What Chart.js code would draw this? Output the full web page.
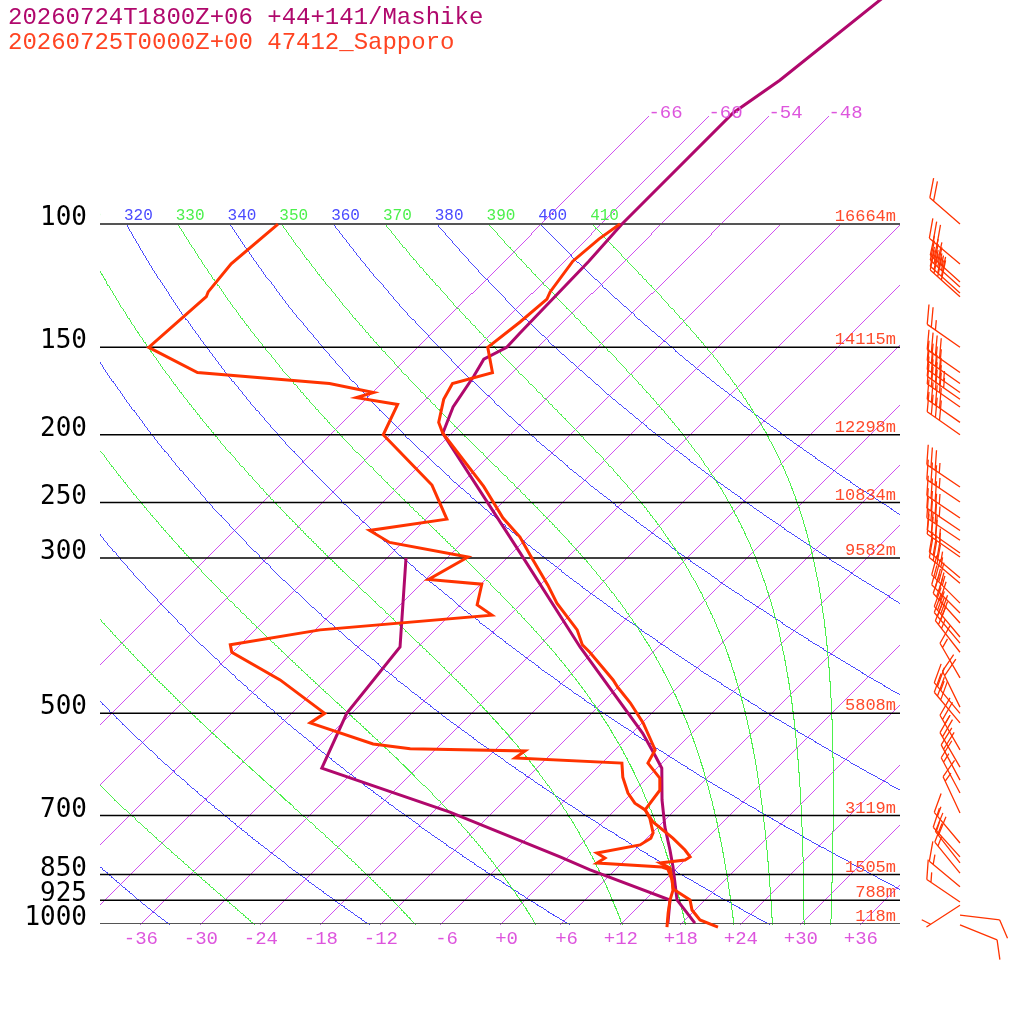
<!DOCTYPE html>
<html lang="en">
<head>
<meta charset="UTF-8">
<title>Skew-T Mashike / Sapporo</title>
<script src="https://cdn.jsdelivr.net/npm/chart.js"></script>
<style>
    html, body { margin: 0; padding: 0; background: #fff; overflow: hidden; }
    #wrap { width: 1024px; height: 1024px; }
</style>
</head>
<body>
<div id="wrap"><canvas id="skewt" width="1024" height="1024"></canvas></div>

<script>
    // sounding 1: model point Mashike (pressure hPa / degC)
    const mashikeTP = [997, 924, 829, 784, 727, 665, 599, 575, 534, 402, 295, 199, 182.5, 165, 156, 150, 143, 113, 100, 69.4, 62.3, 46];
    const mashikeT  = [19.4, 15.3, 11.6, 9.6, 6.8, 3.8, 0.6, -1.3, -4.8, -19.7, -35.1, -54.8, -56.4, -57.4, -58.1, -57.0, -57.1, -57.4, -57.8, -57.8, -56.4, -54.1];
    const mashikeDP = [997, 924, 837, 802, 692, 599, 500, 402, 300];
    const mashikeTd = [16.7, 14.6, 3.6, -0.7, -16.2, -33.4, -36.4, -37.7, -46.0];

    // sounding 2: 47412 Sapporo
    const sapporoTP = [1010, 987, 955, 924, 891, 865, 832, 818, 810, 802, 784, 754, 715, 687, 644, 619, 589, 564, 555, 516, 483, 459, 448, 409, 399, 380, 348, 328, 297, 280, 263, 237, 199, 192, 178, 169, 163, 150, 138, 128, 125, 113, 105, 100];
    const sapporoT  = [22.1, 19.6, 17.8, 16.6, 13.8, 12.8, 11.4, 9.9, 12.1, 12.3, 11.1, 8.7, 5.1, 3.1, 2.6, 1.4, -1.3, -1.9, -2.6, -5.8, -9.1, -11.9, -13.1, -18.2, -19.7, -21.7, -26.4, -29.1, -33.9, -36.7, -40.3, -45.4, -54.8, -56.3, -58.1, -58.8, -55.9, -58.9, -58.2, -57.8, -58.2, -59.0, -58.6, -58.0];
    const sapporoDP = [1010, 964, 924, 894, 865, 835, 829, 818, 805, 792, 771, 754, 741, 706, 687, 672, 650, 617, 589, 579, 566, 562, 553, 516, 500, 448, 409, 399, 380, 362, 350, 327, 322, 299, 285, 274, 264, 236, 200, 181, 177, 174, 169, 163, 150, 127, 125, 114, 100];
    const sapporoTd = [17.0, 15.7, 14.6, 13.9, 12.8, 11.3, 10.5, 3.6, 3.9, 2.6, 6.1, 6.5, 6.2, 4.4, 3.1, 1.4, -0.3, -2.4, -3.9, -15.1, -14.8, -26.5, -30.7, -39.1, -38.6, -46.4, -54.0, -54.9, -47.4, -31.7, -34.2, -35.8, -41.6, -39.9, -49.2, -52.4, -45.8, -50.7, -60.6, -62.2, -67.0, -65.8, -71.1, -85.4, -92.8, -92.1, -92.4, -92.9, -92.2];

    // Sapporo winds: pressure, direction (deg), speed (kt)
    const windP   = [100, 114, 121, 123, 125.5, 127, 150, 163, 169, 174, 178, 182.5, 192, 200, 237.5, 249.5, 263, 274, 283, 295, 299, 320, 326, 348, 359.5, 371.5, 389, 397, 409, 445, 490, 500, 516, 564, 597, 623, 650, 694, 766, 802, 818, 846, 885, 930, 940, 971, 1003];
    const windDir = [311, 310, 312, 312, 312, 312, 305, 305, 305, 305, 305, 305, 305, 305, 304, 304, 304, 304, 304, 305, 305, 310, 310, 315, 315, 318, 320, 320, 322, 330, 334, 320, 320, 330, 330, 332, 332, 335, 320, 318, 322, 321, 310, 304, 237, 97, 112];
    const windSpd = [20, 30, 35, 35, 40, 40, 25, 40, 40, 45, 45, 40, 40, 40, 35, 35, 35, 35, 30, 35, 35, 35, 35, 35, 30, 30, 30, 30, 25, 15, 20, 25, 30, 25, 20, 20, 15, 15, 15, 15, 20, 15, 15, 15, 5, 10, 10];

    // diagram furniture
    const pressureLevels = [100, 150, 200, 250, 300, 500, 700, 850, 925, 1000];
    const heightLabels = ['16664m', '14115m', '12298m', '10834m', '9582m', '5808m', '3119m', '1505m', '788m', '118m'];
    const isothermTemps = [-66, -60, -54, -48, -42, -36, -30, -24, -18, -12, -6, 0, 6, 12, 18, 24, 30, 36];
    const dryThetas = [200, 220, 240, 260, 280, 300, 320, 340, 360, 380, 400];
    const moistThetas = [230, 250, 270, 290, 310, 330, 350, 370, 390, 410];
    const titleLines = ['20260724T1800Z+06 +44+141/Mashike', '20260725T0000Z+00 47412_Sapporo'];

    const MASHIKE = '#b0086c';
    const SAPPORO = '#ff3300';
    const ISOCOL = '#d050f0';
    const DRY = '#4a4aff';
    const MOIST = '#4cf04c';

    const SKEW = 30.4;   // degrees per ln(p) -> 45 degree isotherms
    const P_TOP = 47.85;
    const skewX = (t, p) => t + SKEW * Math.log(1000 / p);
    const toPoints = (ps, ts) => ps.map((p, i) => ({ x: skewX(ts[i], p), y: p }));

    function dryPoints(theta) {
        const pts = [];
        for (let p = 1000; p >= 100; p -= 10) {
            pts.push({ x: skewX(theta * Math.pow(p / 1000, 0.2857) - 273.15, p), y: p });
        }
        return pts;
    }

    function isoPoints(t) {
        const pEnd = t <= -48 ? 70 : 100;
        return [{ x: skewX(t, 1000), y: 1000 }, { x: skewX(t, pEnd), y: pEnd }];
    }

    // pseudo-adiabatic lapse rate dT/dp (K/hPa)
    function dTdp(T, p) {
        const tc = T - 273.15;
        const es = 6.112 * Math.exp(17.67 * tc / (tc + 243.5));
        const rs = 0.622 * es / (p - es);
        const L = 2.501e6;
        return (287.04 * T + L * rs) / (p * (1005.7 + L * L * rs * 0.622 / (287.04 * T * T)));
    }

    function moistPoints(theta) {
        let p = 100;
        let T = theta * Math.pow(0.1, 0.2857);
        const pts = [{ x: skewX(T - 273.15, p), y: p }];
        const dp = 2;
        while (p < 1000) {
            const k1 = dTdp(T, p);
            const k2 = dTdp(T + k1 * dp / 2, p + dp / 2);
            T += k2 * dp;
            p += dp;
            pts.push({ x: skewX(T - 273.15, p), y: p });
        }
        return pts;
    }

    const backgroundLines = [];
    isothermTemps.forEach(t => backgroundLines.push({ pts: isoPoints(t), color: ISOCOL }));
    dryThetas.forEach(th => backgroundLines.push({ pts: dryPoints(th), color: DRY }));
    moistThetas.forEach(th => backgroundLines.push({ pts: moistPoints(th), color: MOIST }));

    function lineDs(data, color, width, order, clip) {
        return {
            data: data, borderColor: color, backgroundColor: color, borderWidth: width, order: order,
            pointRadius: 0, tension: 0, fill: false, clip: clip
        };
    }

    const datasets = [];
    datasets.push(lineDs(toPoints(sapporoTP, sapporoT), SAPPORO, 3, 0, 8));
    datasets.push(lineDs(toPoints(sapporoDP, sapporoTd), SAPPORO, 3, 0, 8));
    datasets.push(lineDs(toPoints(mashikeTP, mashikeT), MASHIKE, 3, 1, 8));
    datasets.push(lineDs(toPoints(mashikeDP, mashikeTd), MASHIKE, 3, 1, 8));
    pressureLevels.forEach(p => {
        const edge = (p === 100 || p === 1000);
        datasets.push(lineDs([{ x: -40, y: p }, { x: 40, y: p }], edge ? '#555' : '#000', edge ? 2 : 1.5, 2, 0));
    });

    // isotherms and adiabats: crisp one-pixel lines placed through the chart scales
    const background = {
        id: 'background',
        beforeDatasetsDraw(chart) {
            const ctx = chart.ctx;
            const xs = chart.scales.x, ys = chart.scales.y;
            const a = chart.chartArea;
            ctx.save();
            backgroundLines.forEach(line => {
                ctx.fillStyle = line.color;
                const px = line.pts.map(pt => [xs.getPixelForValue(pt.x), ys.getPixelForValue(pt.y)]);
                for (let k = 1; k < px.length; k++) {
                    const [x1, y1] = px[k - 1], [x2, y2] = px[k];
                    const n = Math.max(1, Math.ceil(Math.max(Math.abs(x2 - x1), Math.abs(y2 - y1))));
                    for (let i = 0; i <= n; i++) {
                        const x = Math.round(x1 + (x2 - x1) * i / n);
                        const y = Math.round(y1 + (y2 - y1) * i / n);
                        if (x >= a.left && x < a.right && y >= a.top && y <= a.bottom) ctx.fillRect(x, y, 1, 1);
                    }
                }
            });
            ctx.restore();
        }
    };

    function drawBarb(ctx, x0, y0, dir, spd) {
        const rad = dir * Math.PI / 180;
        const ux = Math.sin(rad), uy = -Math.cos(rad);
        const nx = -uy, ny = ux;
        const fx = 0.5 * ux + 0.866 * nx, fy = 0.5 * uy + 0.866 * ny;
        const L = 40, F = 20, gap = 5;
        const tx = x0 + L * ux, ty = y0 + L * uy;
        ctx.beginPath();
        ctx.moveTo(x0, y0);
        ctx.lineTo(tx, ty);
        let s = Math.round(spd / 5) * 5;
        let pos = 0;
        while (s >= 50) {
            const bx = tx - pos * ux, by = ty - pos * uy;
            ctx.moveTo(bx, by);
            ctx.lineTo(bx + F * fx, by + F * fy);
            ctx.lineTo(bx - gap * ux, by - gap * uy);
            pos += gap * 1.5;
            s -= 50;
        }
        while (s >= 10) {
            const bx = tx - pos * ux, by = ty - pos * uy;
            ctx.moveTo(bx, by);
            ctx.lineTo(bx + F * fx, by + F * fy);
            pos += gap;
            s -= 10;
        }
        if (s >= 5) {
            if (pos === 0) pos = gap;
            const bx = tx - pos * ux, by = ty - pos * uy;
            ctx.moveTo(bx, by);
            ctx.lineTo(bx + F / 2 * fx, by + F / 2 * fy);
        }
        ctx.stroke();
    }

    const decorations = {
        id: 'decorations',
        afterDraw(chart) {
            const ctx = chart.ctx;
            const xs = chart.scales.x, ys = chart.scales.y;
            const area = chart.chartArea;
            ctx.save();

            // titles
            ctx.textAlign = 'left';
            ctx.textBaseline = 'alphabetic';
            ctx.font = '24px "Liberation Mono", monospace';
            ctx.fillStyle = MASHIKE;
            ctx.fillText(titleLines[0], 8, 24);
            ctx.fillStyle = '#ff4422';
            ctx.fillText(titleLines[1], 8, 49);

            // pressure labels and heights
            pressureLevels.forEach((p, i) => {
                const y = ys.getPixelForValue(p);
                ctx.font = '26px "DejaVu Sans Mono", monospace';
                ctx.fillStyle = '#000';
                ctx.textAlign = 'right';
                ctx.fillText(String(p), 87, y + 1);
                ctx.font = '17px "Liberation Mono", monospace';
                ctx.fillStyle = '#ff4a2a';
                ctx.fillText(heightLabels[i], 896, y - 3);
            });

            // isotherm labels
            ctx.font = '19px "Liberation Mono", monospace';
            ctx.fillStyle = '#dd55dd';
            isothermTemps.forEach(t => {
                if (t >= -36) {
                    const x = xs.getPixelForValue(skewX(t, 1000));
                    ctx.textAlign = 'right';
                    ctx.fillText((t >= 0 ? '+' : '') + t, x + 18, 944);
                }
                if (t <= -48) {
                    ctx.textAlign = 'left';
                    ctx.fillText(String(t), xs.getPixelForValue(skewX(t, 70)), ys.getPixelForValue(70) + 2);
                }
            });

            // adiabat labels along 100 hPa, clipped to the diagram
            ctx.save();
            ctx.beginPath();
            ctx.rect(area.left, 0, area.right - area.left, 1024);
            ctx.clip();
            ctx.font = '16px "Liberation Mono", monospace';
            ctx.textAlign = 'left';
            const yTop = ys.getPixelForValue(100) - 4;
            dryThetas.forEach(th => {
                ctx.fillStyle = DRY;
                ctx.fillText(String(th), xs.getPixelForValue(skewX(th * Math.pow(0.1, 0.2857) - 273.15, 100)) - 2, yTop);
            });
            moistThetas.forEach(th => {
                ctx.fillStyle = MOIST;
                ctx.fillText(String(th), xs.getPixelForValue(skewX(th * Math.pow(0.1, 0.2857) - 273.15, 100)) - 2, yTop);
            });
            ctx.restore();

            // wind barbs
            ctx.strokeStyle = SAPPORO;
            ctx.lineWidth = 1.3;
            const xb = xs.getPixelForValue(46);
            windP.forEach((p, i) => drawBarb(ctx, xb, ys.getPixelForValue(p), windDir[i], windSpd[i]));

            ctx.restore();
        }
    };

    new Chart(document.getElementById('skewt').getContext('2d'), {
        type: 'line',
        data: { datasets: datasets },
        options: {
            responsive: false,
            devicePixelRatio: 1,
            animation: false,
            events: [],
            layout: { padding: { left: 100, right: 124, top: 0, bottom: 100 } },
            scales: {
                x: { type: 'linear', min: -40, max: 40, bounds: 'data', display: false },
                y: { type: 'logarithmic', min: P_TOP, max: 1000, reverse: true, bounds: 'data', display: false }
            },
            plugins: { legend: { display: false }, tooltip: { enabled: false } }
        },
        plugins: [background, decorations]
    });
</script>
</body>
</html>
